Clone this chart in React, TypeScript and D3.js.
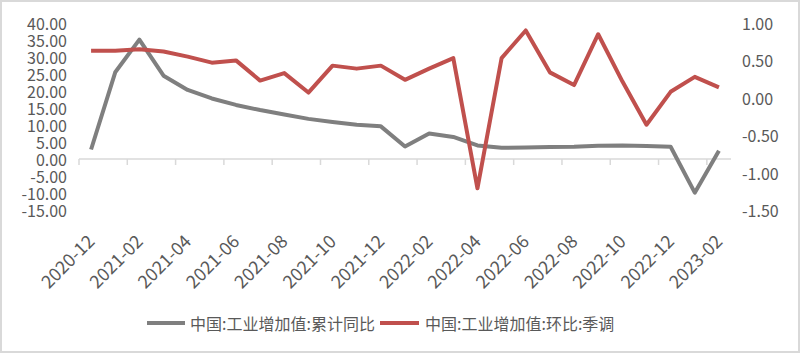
import * as d3 from "d3";

const W = 800;
const H = 353;
const M = { top: 23, right: 69, bottom: 143, left: 79 };

const months = [
  "2020-12", "2021-01", "2021-02", "2021-03", "2021-04", "2021-05", "2021-06",
  "2021-07", "2021-08", "2021-09", "2021-10", "2021-11", "2021-12", "2022-01",
  "2022-02", "2022-03", "2022-04", "2022-05", "2022-06", "2022-07", "2022-08",
  "2022-09", "2022-10", "2022-11", "2022-12", "2023-01", "2023-02",
];

// 累计同比 (left axis)
const cumYoY = [
  2.8, 25.5, 35.1, 24.5, 20.3, 17.8, 15.9, 14.4, 13.1, 11.8, 10.9, 10.1, 9.6,
  3.7, 7.5, 6.5, 4.0, 3.3, 3.4, 3.5, 3.6, 3.9, 4.0, 3.8, 3.6, -9.9, 2.4,
];

// 环比:季调 (right axis)
const momSA = [
  0.63, 0.63, 0.65, 0.62, 0.55, 0.47, 0.5, 0.23, 0.33, 0.07, 0.43, 0.39, 0.43,
  0.24, 0.39, 0.53, -1.21, 0.53, 0.9, 0.34, 0.17, 0.85, 0.22, -0.36, 0.08,
  0.28, 0.14,
];

const leftTicks = [40, 35, 30, 25, 20, 15, 10, 5, 0, -5, -10, -15];
const rightTicks = [1, 0.5, 0, -0.5, -1, -1.5];

const seriesNames = ["中国:工业增加值:累计同比", "中国:工业增加值:环比:季调"];
const colors = ["#7f7f7f", "#c0504d"];

const FONT = "'Noto Sans CJK SC', 'Noto Sans', sans-serif";
const TEXT = "#595959";

export default function App() {
  const x0 = M.left;
  const x1 = W - M.right;
  const yTop = M.top;
  const yBot = H - M.bottom;

  const x = d3.scaleBand<string>().domain(months).range([x0, x1]);
  const cx = (m: string) => (x(m) ?? 0) + x.bandwidth() / 2;
  const yL = d3.scaleLinear().domain([-15, 40]).range([yBot, yTop]);
  const yR = d3.scaleLinear().domain([-1.5, 1]).range([yBot, yTop]);

  const lineL = d3
    .line<number>()
    .x((_, i) => cx(months[i]))
    .y((d) => yL(d));
  const lineR = d3
    .line<number>()
    .x((_, i) => cx(months[i]))
    .y((d) => yR(d));

  const axisY = yL(0);
  const tickIdx = d3.range(0, months.length + 1, 2);

  return (
    <svg
      width={W}
      height={H}
      style={{ position: "absolute", left: 0, top: 0, fontFamily: FONT }}
    >
      <rect x={0} y={0} width={W} height={H} fill="#fff" />
      <rect x={1} y={1} width={W - 2} height={H - 2} fill="none" stroke="#d9d9d9" strokeWidth={2} />

      {/* left axis labels */}
      {leftTicks.map((t) => (
        <text
          key={"l" + t}
          x={x0 - 12}
          y={yL(t)}
          textAnchor="end"
          dominantBaseline="central"
          fontSize={16}
          fill={TEXT}
        >
          {t.toFixed(2)}
        </text>
      ))}

      {/* right axis labels */}
      {rightTicks.map((t) => (
        <text
          key={"r" + t}
          x={x1 + 11}
          y={yR(t)}
          textAnchor="start"
          dominantBaseline="central"
          fontSize={16}
          fill={TEXT}
        >
          {t.toFixed(2)}
        </text>
      ))}

      {/* category axis */}
      <line x1={x0} x2={x1} y1={axisY} y2={axisY} stroke="#d9d9d9" strokeWidth={1.5} />
      {tickIdx.map((i) => {
        const tx = x0 + i * x.step();
        return (
          <line key={"t" + i} x1={tx} x2={tx} y1={axisY} y2={axisY + 6} stroke="#d9d9d9" strokeWidth={1.5} />
        );
      })}
      {months.map((m, i) =>
        i % 2 === 0 ? (
          <text
            key={"x" + m}
            transform={`translate(${cx(m) - 1},${yBot + 27}) rotate(-45)`}
            textAnchor="end"
            dominantBaseline="central"
            fontSize={18}
            fill={TEXT}
          >
            {m}
          </text>
        ) : null
      )}

      <path d={lineL(cumYoY) ?? ""} fill="none" stroke={colors[0]} strokeWidth={4} strokeLinejoin="round" />
      <path d={lineR(momSA) ?? ""} fill="none" stroke={colors[1]} strokeWidth={4} strokeLinejoin="round" />

      {/* legend */}
      <g transform="translate(147,323)">
        <line x1={0} x2={38} y1={0} y2={0} stroke={colors[0]} strokeWidth={4} />
        <text x={43} y={0} dominantBaseline="central" fontSize={16} fill={TEXT}>
          {seriesNames[0]}
        </text>
        <line x1={233} x2={272} y1={0} y2={0} stroke={colors[1]} strokeWidth={4} />
        <text x={278} y={0} dominantBaseline="central" fontSize={16} fill={TEXT}>
          {seriesNames[1]}
        </text>
      </g>
    </svg>
  );
}
